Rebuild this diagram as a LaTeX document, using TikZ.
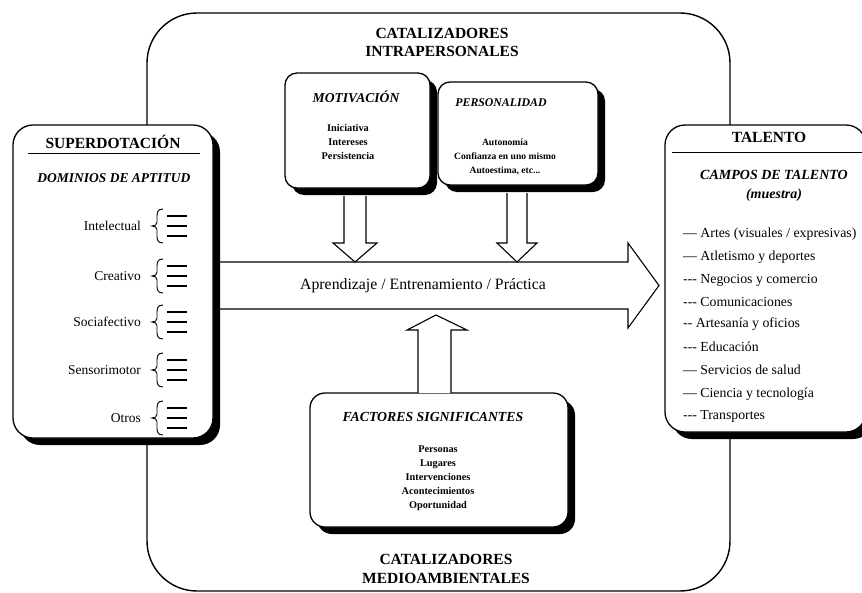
\documentclass[tikz,border=0pt]{standalone}
\usepackage{fontspec}
\setmainfont{Liberation Serif}
\newcommand{\fs}[2]{\fontsize{#1}{#2}\selectfont}
\begin{document}
\begin{tikzpicture}[x=1pt,y=-1pt,
  panel/.style={draw, line width=1.3pt, fill=white, inner sep=0pt,
    preaction={fill=black, transform canvas={shift={(7pt,-7pt)}}}},
  blockarrow/.style={draw, line width=1.1pt, fill=white, line join=miter},
  title/.style={font=\fs{15.5}{18.5}\bfseries, align=center, inner sep=0pt},
  subtitle/.style={font=\bfseries\itshape, align=center, inner sep=0pt},
  small/.style={font=\fs{10.3}{14}\bfseries, align=center, inner sep=0pt},
  dom/.style={font=\fs{13.5}{16}, anchor=east, inner sep=0pt},
  field/.style={font=\fs{13.8}{16}, anchor=west, inner sep=0pt},
  brace/.style={line width=0.9pt},
  tick/.style={line width=1.1pt}
]
\useasboundingbox (0,0) rectangle (862,592);

% big catalysts frame
\node[draw, line width=1.4pt, rounded corners=50pt, minimum width=583pt, minimum height=578pt, inner sep=0pt] (cat) at (438.5,302) {};

\node[title] (intra) at (442,42.5) {CATALIZADORES\\INTRAPERSONALES};
\node[title] (medio) at (446,569) {CATALIZADORES\\MEDIOAMBIENTALES};

% main horizontal arrow
\coordinate (ha) at (219,262);
\draw[blockarrow] (ha) -- (628,262) -- (628,243) -- (659,285.5) -- (628,328) -- (628,309) -- (219,309);
\node[font=\fs{15.8}{18}, inner sep=0pt] (apr) at (423,285.5) {Aprendizaje / Entrenamiento / Práctica};

% left box: superdotacion
\node[panel, rounded corners=20pt, minimum width=200pt, minimum height=313pt] (sup) at (113,281.5) {};
\node[title] (supt) at (113,142) {SUPERDOTACIÓN};
\draw[line width=1pt] (28,153) -- (200,153);
\node[subtitle, font=\fs{13.5}{16}\bfseries\itshape] (dominios) at (114,178) {DOMINIOS DE APTITUD};
\foreach \name/\txt/\yy in {d1/Intelectual/226, d2/Creativo/276, d3/Sociafectivo/322, d4/Sensorimotor/370, d5/Otros/418}{
  \node[dom] (\name) at (141,\yy) {\txt};
  \draw[brace] (163,\yy-17) .. controls (157,\yy-17) and (157,\yy-13) .. (157,\yy-9)
     -- (157,\yy-4) .. controls (157,\yy-1) and (155,\yy) .. (152,\yy)
     .. controls (155,\yy) and (157,\yy+1) .. (157,\yy+4)
     -- (157,\yy+9) .. controls (157,\yy+13) and (157,\yy+17) .. (163,\yy+17);
  \draw[tick] (167,\yy-10) -- (187,\yy-10);
  \draw[tick] (167,\yy) -- (187,\yy);
  \draw[tick] (167,\yy+10) -- (187,\yy+10);
}

% right box: talento (runs past the right edge)
\node[panel, rounded corners=20pt, minimum width=201pt, minimum height=307pt] (tal) at (765.5,278.5) {};
\node[title] (talt) at (769,137) {TALENTO};
\draw[line width=1pt] (672,152) -- (862,152);
\node[subtitle, font=\fs{14}{19}\bfseries\itshape] (campos) at (774,185.5) {CAMPOS DE TALENTO\\(muestra)};
\node[field] (f1) at (683,234) {\textemdash{} Artes (visuales / expresivas)};
\node[field] (f2) at (683,257) {\textemdash{} Atletismo y deportes};
\node[field] (f3) at (683,280) {-{}-{}- Negocios y comercio};
\node[field] (f4) at (683,302) {-{}-{}- Comunicaciones};
\node[field] (f5) at (683,324) {-{}- Artesanía y oficios};
\node[field] (f6) at (683,347) {-{}-{}- Educación};
\node[field] (f7) at (683,370) {\textemdash{} Servicios de salud};
\node[field] (f8) at (683,394) {\textemdash{} Ciencia y tecnología};
\node[field] (f9) at (683,416) {-{}-{}- Transportes};

% motivacion
\node[panel, rounded corners=12pt, minimum width=145pt, minimum height=115pt] (mot) at (357.5,130.5) {};
\node[subtitle, font=\fs{13.6}{15}\bfseries\itshape] (mott) at (356,97) {MOTIVACIÓN};
\node[small] (moti) at (348,142) {Iniciativa\\Intereses\\Persistencia};

% personalidad
\node[panel, rounded corners=12pt, minimum width=160pt, minimum height=103pt] (per) at (518,133.5) {};
\node[subtitle, font=\fs{11.8}{15}\bfseries\itshape] (pert) at (501,103) {PERSONALIDAD};
\node[small, font=\fs{9.6}{14}\bfseries] (peri) at (505,157) {Autonomía\\Confianza en uno mismo\\Autoestima, etc...};

% factores
\node[panel, rounded corners=15pt, minimum width=258pt, minimum height=134pt] (fac) at (439,460) {};
\node[subtitle, font=\fs{13.8}{16}\bfseries\itshape] (fact) at (433,417) {FACTORES SIGNIFICANTES};
\node[small] (faci) at (438,478) {Personas\\Lugares\\Intervenciones\\Acontecimientos\\Oportunidad};

% down arrows from the intrapersonal boxes
\draw[blockarrow] (344,196) -- (344,243) -- (333,243) -- (355,262) -- (377,243) -- (366,243) -- (366,196);
\draw[blockarrow] (507,193) -- (507,243) -- (497,243) -- (517,262) -- (537,243) -- (527,243) -- (527,193);
% up arrow from factores
\draw[blockarrow] (418,393) -- (418,330) -- (407,330) -- (436,315) -- (467,330) -- (451,330) -- (451,393);

\end{tikzpicture}
\end{document}
